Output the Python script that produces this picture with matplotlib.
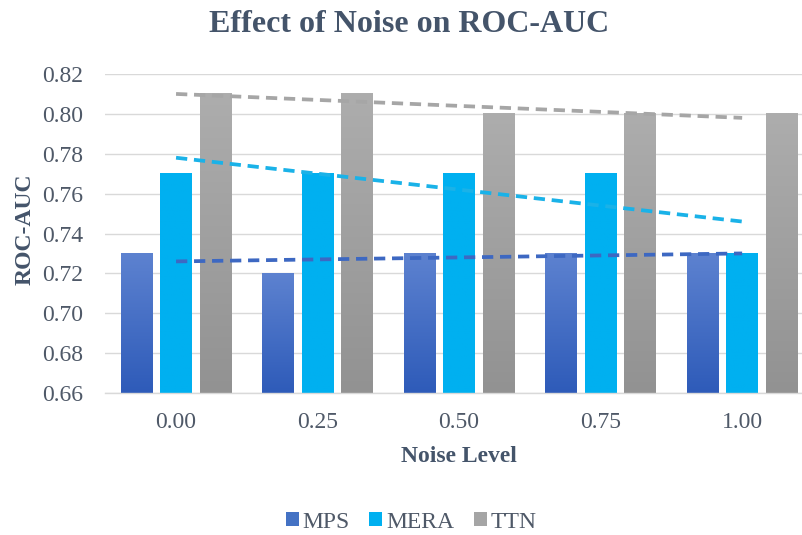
import numpy as np
import matplotlib
matplotlib.use("Agg")
import matplotlib.pyplot as plt
from matplotlib.colors import LinearSegmentedColormap
from matplotlib.patches import Patch

plt.rcParams['font.family'] = ['Liberation Serif', 'DejaVu Serif']

# Data
noise_levels = ["0.00", "0.25", "0.50", "0.75", "1.00"]
mps = [0.73, 0.72, 0.73, 0.73, 0.73]
mera = [0.77, 0.77, 0.77, 0.77, 0.73]
ttn = [0.81, 0.81, 0.80, 0.80, 0.80]
y_ticks = [0.66, 0.68, 0.70, 0.72, 0.74, 0.76, 0.78, 0.80, 0.82]

W, H = 803, 535
fig = plt.figure(figsize=(W / 100, H / 100), dpi=100)
fig.patch.set_facecolor("white")

ax_left, ax_right, ax_bottom, ax_top = 105, 803, 393, 74
ax = fig.add_axes([ax_left / W, 1 - ax_bottom / H,
                   (ax_right - ax_left) / W, (ax_bottom - ax_top) / H])

x = np.arange(len(noise_levels))
bw = 0.226
step = 0.279

series = [
    ("MPS", mps, -step, ("#2E5BB9", "#5D82D0"), "#4472C4", "#3D68C2"),
    ("MERA", mera, 0.0, ("#00B0F0", "#00B0F0"), "#00B0F0", "#1AB2E8"),
    ("TTN", ttn, step, ("#929292", "#ADADAD"), "#A5A5A5", "#A6A6A6"),
]

ymin, ymax = 0.66, 0.82
for name, vals, off, (c_bot, c_top), legend_c, trend_c in series:
    bars = ax.bar(x + off, np.array(vals) - ymin, bw, bottom=ymin,
                  color="none", edgecolor="none", zorder=2)
    cmap = LinearSegmentedColormap.from_list(name, [c_bot, c_top])
    grad = np.linspace(0, 1, 256).reshape(-1, 1)
    for b in bars:
        x0, y0 = b.get_x(), b.get_y()
        ax.imshow(grad, cmap=cmap, origin="lower", aspect="auto",
                  extent=[x0, x0 + b.get_width(), y0, y0 + b.get_height()],
                  zorder=2, interpolation="bilinear")
    # linear trendline across categories
    k, c = np.polyfit(x + 1, vals, 1)
    ax.plot([x[0], x[-1]], [k * 1 + c, k * len(x) + c], color=trend_c,
            lw=2.7, dashes=(3.0, 1.8), zorder=3)

ax.set_xlim(-0.502, 4.43)
ax.set_ylim(ymin, ymax)
ax.set_yticks(y_ticks)
ax.set_yticklabels([f"{t:.2f}" for t in y_ticks])
ax.set_xticks(x)
ax.set_xticklabels(noise_levels)
ax.yaxis.grid(True, color="#D9D9D9", lw=1.0, zorder=0)
ax.set_axisbelow(True)
for s in ["top", "right", "left"]:
    ax.spines[s].set_visible(False)
ax.spines["bottom"].set_color("#D9D9D9")
ax.spines["bottom"].set_linewidth(1.0)
ax.tick_params(axis="both", length=0, labelsize=17, labelcolor="#4F5968")
ax.tick_params(axis="x", pad=14)
ax.tick_params(axis="y", pad=16)

title_c = "#44546A"
fig.text(409 / W, 1 - 25 / H, "Effect of Noise on ROC-AUC", ha="center", va="center",
         fontsize=23, fontweight="bold", color=title_c)
fig.text(459 / W, 1 - 456 / H, "Noise Level", ha="center", va="center",
         fontsize=17, fontweight="bold", color=title_c)
fig.text(25 / W, 1 - 229 / H, "ROC-AUC", ha="center", va="center", rotation=90,
         fontsize=17, fontweight="bold", color=title_c)

handles = [Patch(facecolor=s[4], edgecolor="none", label=s[0]) for s in series]
fig.legend(handles=handles, loc="center", bbox_to_anchor=(411 / W, 1 - 522 / H),
           ncol=3, frameon=False, fontsize=17, handlelength=0.55, handleheight=0.55,
           handletextpad=0.15, columnspacing=0.85, labelcolor="#4F5968",
           borderpad=0, borderaxespad=0)

fig.savefig("out.png", dpi=100, facecolor="white")
